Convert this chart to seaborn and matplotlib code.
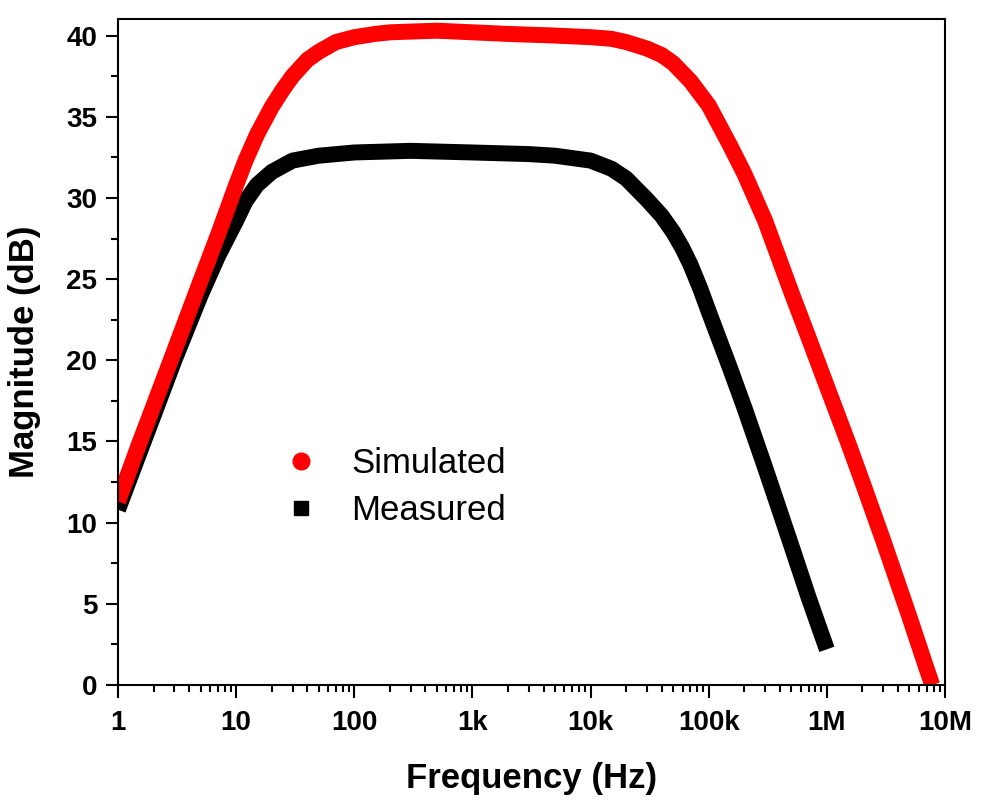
import numpy as np
import pandas as pd
import seaborn as sns
import matplotlib.pyplot as plt
from matplotlib.lines import Line2D
from matplotlib.ticker import FixedLocator, LogLocator, MultipleLocator, NullFormatter

# values
freq_sim = [1, 1.5, 2, 3, 5, 7, 10, 12, 15, 20, 25, 30, 40, 50, 70, 100,
            150, 200, 500, 1e3, 2e3, 5e3, 1e4, 1.5e4, 2e4, 3e4, 4e4, 5e4,
            7e4, 1e5, 1.5e5, 2e5, 3e5, 5e5, 7e5, 1e6, 1.5e6, 2e6, 3e6, 5e6,
            7e6, 7.8e6]
mag_sim = [11.3, 14.8, 17.2, 20.6, 24.9, 27.7, 30.8, 32.3, 33.9, 35.6,
           36.7, 37.5, 38.5, 39.0, 39.6, 39.9, 40.1, 40.2, 40.3, 40.2, 40.1,
           40.0, 39.9, 39.8, 39.6, 39.2, 38.8, 38.3, 37.2, 35.7, 33.3, 31.5,
           28.6, 24.2, 21.4, 18.4, 15.0, 12.5, 8.9, 4.2, 1.0, 0.0]

freq_meas = [1, 1.5, 2, 3, 5, 7, 10, 12, 15, 20, 30, 50, 100, 300, 1e3,
             3e3, 5e3, 1e4, 1.5e4, 2e4, 3e4, 4e4, 5e4, 6e4, 7e4, 8.5e4, 1e5,
             1.5e5, 2e5, 3e5, 5e5, 7e5, 1e6]
mag_meas = [10.8, 14.2, 16.6, 20.0, 24.0, 26.4, 28.6, 29.8, 30.8, 31.6,
            32.3, 32.6, 32.8, 32.9, 32.8, 32.7, 32.6, 32.3, 31.8, 31.2, 29.9,
            28.9, 27.9, 26.9, 25.9, 24.4, 23.0, 19.6, 17.1, 13.4, 8.6, 5.4,
            2.2]

xtick_vals = [1, 10, 100, 1e3, 1e4, 1e5, 1e6, 1e7]
xtick_labels = ['1', '10', '100', '1k', '10k', '100k', '1M', '10M']

df_sim = pd.DataFrame({'Frequency': freq_sim, 'Magnitude': mag_sim})
df_meas = pd.DataFrame({'Frequency': freq_meas, 'Magnitude': mag_meas})

sns.set_style('white')
plt.rcParams['font.family'] = ['Liberation Sans', 'DejaVu Sans']
plt.rcParams['text.color'] = 'black'
plt.rcParams['axes.labelcolor'] = 'black'
plt.rcParams['xtick.color'] = 'black'
plt.rcParams['ytick.color'] = 'black'

fig = plt.figure(figsize=(10, 8.05), dpi=100)
ax = fig.add_axes([0.118, 0.149, 0.827, 0.827])

sns.lineplot(data=df_meas, x='Frequency', y='Magnitude', color='black',
             lw=11.5, sort=False, estimator=None, ax=ax,
             solid_capstyle='butt', solid_joinstyle='round')
sns.lineplot(data=df_sim, x='Frequency', y='Magnitude', color='#ff0000',
             lw=11.5, sort=False, estimator=None, ax=ax,
             solid_capstyle='butt', solid_joinstyle='round')

ax.set_xscale('log')
ax.set_xlim(1, 1e7)
ax.set_ylim(0, 41)

ax.xaxis.set_major_locator(FixedLocator(xtick_vals))
ax.set_xticklabels(xtick_labels)
ax.xaxis.set_minor_locator(LogLocator(base=10, subs=np.arange(2, 10), numticks=20))
ax.xaxis.set_minor_formatter(NullFormatter())
ax.yaxis.set_major_locator(MultipleLocator(5))
ax.yaxis.set_minor_locator(MultipleLocator(2.5))

ax.tick_params(which='major', direction='out', length=9, width=1.5,
               labelsize=20, bottom=True, left=True, top=False, right=False)
ax.tick_params(axis='x', which='major', pad=9)
ax.tick_params(axis='y', which='major', pad=6)
ax.tick_params(which='minor', direction='out', length=5, width=1.5,
               bottom=True, left=True, top=False, right=False)
for lbl in ax.get_xticklabels() + ax.get_yticklabels():
    lbl.set_fontweight('bold')

for s in ax.spines.values():
    s.set_linewidth(1.5)
    s.set_color('black')

ax.set_xlabel('Frequency (Hz)', fontsize=25, fontweight='bold', labelpad=19)
ax.set_ylabel('Magnitude (dB)', fontsize=25, fontweight='bold', labelpad=18)

handles = [Line2D([], [], ls='none', marker='o', color='#ff0000', markersize=12),
           Line2D([], [], ls='none', marker='s', color='black', markersize=10)]
ax.legend(handles, ['Simulated', 'Measured'], loc='upper left',
          bbox_to_anchor=(0.2, 0.358), frameon=False, fontsize=25,
          handlelength=1.0, handletextpad=0.95, labelspacing=0.42,
          borderpad=0, borderaxespad=0)

fig.savefig('out.png', dpi=100, facecolor='white')
